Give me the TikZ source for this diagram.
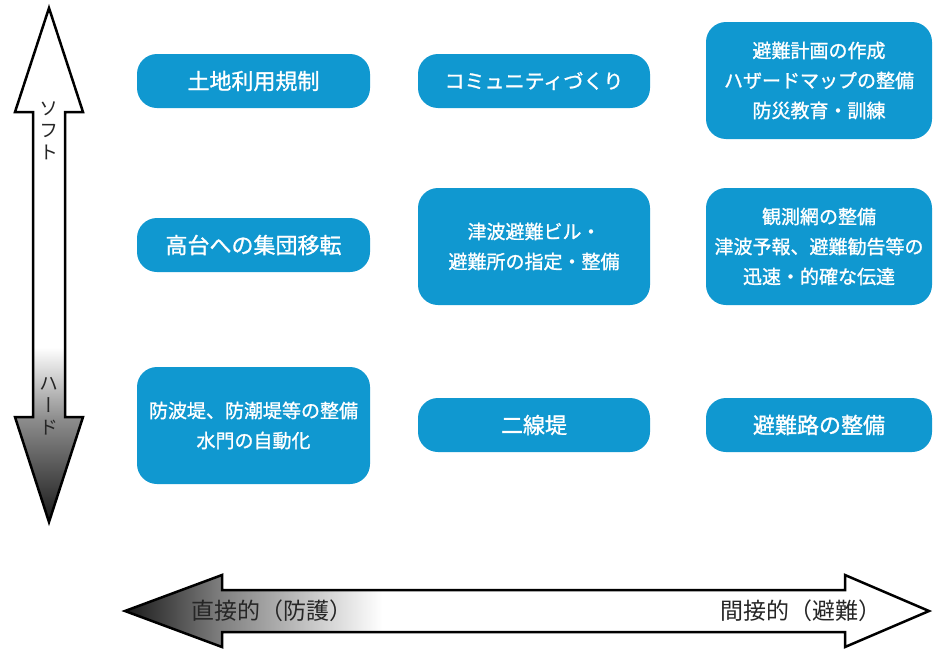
\documentclass[tikz,border=0pt]{standalone}
\usepackage{fontspec}
\usepackage{tikz}
\newfontfamily\jp{Noto Sans CJK JP}
\newfontfamily\jpbold[FakeBold=1.2]{Noto Sans CJK JP}
\newfontfamily\jpv[RawFeature=+vert]{Noto Sans CJK JP}
\definecolor{boxblue}{RGB}{16,152,208}
\pgfdeclareverticalshading{hardshade}{100bp}{color(0bp)=(black!90); color(25bp)=(black!90); color(35bp)=(black!45); color(42bp)=(white); color(100bp)=(white)}
\pgfdeclarehorizontalshading{directshade}{100bp}{color(0bp)=(black!90); color(25bp)=(black!90); color(31bp)=(black!50); color(41bp)=(white); color(100bp)=(white)}

\begin{document}
\begin{tikzpicture}[x=1pt,y=-1pt]
         \tikzset{box/.style={fill=boxblue, rounded corners=20pt, text=white, align=center,
                  font=\jpbold\fontsize{22}{30}\selectfont, inner sep=0pt}}
         \tikzset{onerow/.style={box, minimum height=54pt}}
         \tikzset{threerow/.style={box, minimum height=117pt, font=\jpbold\fontsize{19}{30}\selectfont}}
         \tikzset{axislabel/.style={text=black!85, inner sep=0pt}}
         \useasboundingbox (0,0) rectangle (934,648);
         \draw[line width=2.5pt, shading=hardshade]
               (49,8) -- (83,112) -- (65,112) -- (65,417) -- (83,417) -- (49,522)
               -- (15,417) -- (33,417) -- (33,112) -- (15,112) -- cycle;
         \draw[line width=2.5pt, shading=directshade]
               (125,611) -- (222,575) -- (222,590) -- (845,590) -- (845,575) -- (929,611)
               -- (845,647) -- (845,632) -- (222,632) -- (222,647) -- cycle;
         \node[axislabel, align=center, font=\jpv\fontsize{19}{22}\selectfont] (soft) at (49,131) {ソ\\フ\\ト};
         \node[axislabel, align=center, font=\jpv\fontsize{19}{22}\selectfont] (hard) at (49,406) {ハ\\ー\\ド};
         \node[axislabel, anchor=west, font=\jp\fontsize{23}{26}\selectfont] (direct) at (191,611) {直接的（防護）};
         \node[axislabel, anchor=east, font=\jp\fontsize{23}{26}\selectfont] (indirect) at (882,611) {間接的（避難）};
         \node[onerow, minimum width=233pt] (landuse) at (253.5,81) {土地利用規制};
         \node[onerow, minimum width=232pt, font=\jpbold\fontsize{20}{30}\selectfont] (community) at (534,81) {コミュニティづくり};
         \node[threerow, minimum width=226pt] (evacplan) at (819,80.5) {避難計画の作成\\ハザードマップの整備\\防災教育・訓練};
         \node[onerow, minimum width=233pt] (relocate) at (253.5,245) {高台への集団移転};
         \node[threerow, minimum width=232pt] (tsunamibldg) at (534,246.5) {津波避難ビル・\\避難所の指定・整備};
         \node[threerow, minimum width=226pt] (observe) at (819,246.5) {観測網の整備\\津波予報、避難勧告等の\\迅速・的確な伝達};
         \node[threerow, minimum width=233pt] (seawall) at (253.5,425.5) {防波堤、防潮堤等の整備\\水門の自動化};
         \node[onerow, minimum width=232pt] (secondlevee) at (534,425) {二線堤};
         \node[onerow, minimum width=226pt] (evacroute) at (819,425) {避難路の整備};
\end{tikzpicture}
\end{document}
